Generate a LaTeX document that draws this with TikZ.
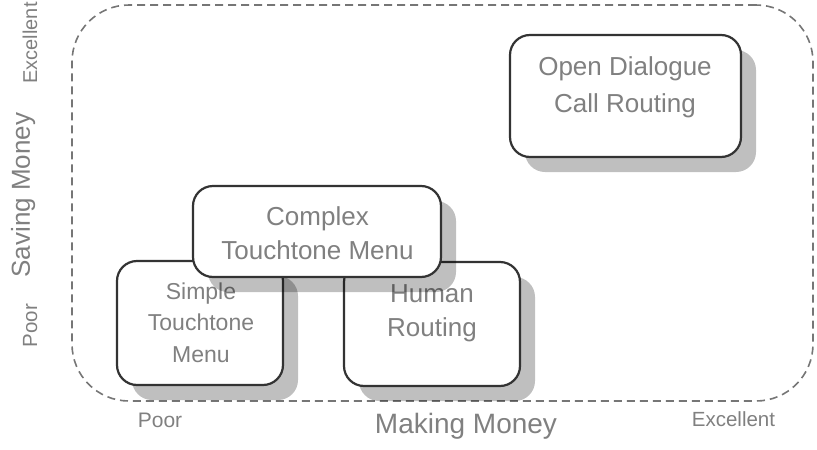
\documentclass[tikz,border=0pt]{standalone}
\usepackage{fontspec}
\setmainfont{Liberation Sans}
\usetikzlibrary{shadows}
\definecolor{txtgray}{HTML}{808080}
\definecolor{edgegray}{HTML}{333333}
\definecolor{dashgray}{HTML}{767676}
\tikzset{
  optbox/.style={draw=edgegray, line width=2.2pt, rounded corners=20pt, fill=white,
    inner sep=0pt,
    drop shadow={shadow xshift=15pt, shadow yshift=-15pt, fill=black, opacity=0.25}},
  boxtext/.style={text=txtgray, align=center, inner sep=0pt},
  axistext/.style={text=txtgray, inner sep=0pt, anchor=base},
}
\begin{document}
\begin{tikzpicture}[x=1pt, y=-1pt]
\useasboundingbox (0,0) rectangle (817,450);

% region of the chart
\node[draw=dashgray, line width=1.6pt, dash pattern=on 8pt off 5pt,
      rounded corners=57pt, minimum width=741pt, minimum height=396pt, inner sep=0pt]
      (area) at (442.5,203) {};

% option boxes, back to front
\node[optbox, minimum width=166pt, minimum height=124pt] (simple) at (200,323) {};
\node[boxtext, font=\fontsize{23}{31.5}\selectfont] (simple-t) at (201,322.6) {Simple\\Touchtone\\Menu};

\node[optbox, minimum width=176pt, minimum height=124pt] (human) at (432,324) {};
\node[boxtext, font=\fontsize{26}{34}\selectfont] (human-t) at (432,313.2) {Human\\Routing};

\node[optbox, minimum width=248pt, minimum height=91pt] (complex) at (317,231.5) {};
\node[boxtext, font=\fontsize{26}{34}\selectfont] (complex-t) at (317.5,233.5) {Complex\\Touchtone Menu};

\node[optbox, minimum width=231pt, minimum height=122pt] (open) at (625.5,96) {};
\node[boxtext, font=\fontsize{26}{37}\selectfont] (open-t) at (625,86.8) {Open Dialogue\\Call Routing};

% horizontal axis
\node[axistext, font=\fontsize{21}{24}\selectfont] (xpoor) at (160,427) {Poor};
\node[axistext, font=\fontsize{20.5}{24}\selectfont] (xexc) at (733.5,426) {Excellent};
\node[axistext, font=\fontsize{28}{32}\selectfont] (xtitle) at (466,433) {Making Money};

% vertical axis
\node[axistext, rotate=90, font=\fontsize{20.5}{24}\selectfont] (ypoor) at (37,325.5) {Poor};
\node[axistext, rotate=90, font=\fontsize{20}{24}\selectfont] (yexc) at (37,43) {Excellent};
\node[axistext, rotate=90, font=\fontsize{26}{30}\selectfont] (ytitle) at (30,195) {Saving Money};
\end{tikzpicture}
\end{document}
